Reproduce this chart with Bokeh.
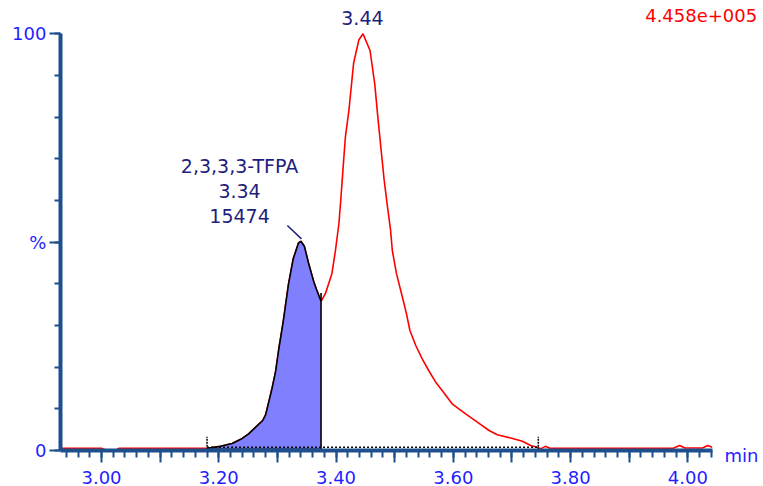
import numpy as np
from bokeh.plotting import figure
from bokeh.models import Range1d, FixedTicker, Label
from bokeh.embed import file_html
from bokeh.resources import INLINE

# ---- data (retention time in min, relative intensity in %) ----
time = [2.930, 2.960, 3.000, 3.007, 3.025, 3.030, 3.080, 3.130, 3.180, 3.203,
        3.223, 3.240, 3.251, 3.263, 3.275, 3.280, 3.285, 3.291, 3.297, 3.302,
        3.310, 3.319, 3.327, 3.336, 3.340, 3.346, 3.353, 3.362, 3.367, 3.3744,
        3.382, 3.393, 3.399, 3.405, 3.408, 3.413, 3.416, 3.422, 3.430, 3.439,
        3.446, 3.458, 3.466, 3.472, 3.477, 3.482, 3.487, 3.493, 3.496, 3.503,
        3.513, 3.520, 3.526, 3.536, 3.547, 3.558, 3.570, 3.581, 3.598, 3.621,
        3.641, 3.661, 3.675, 3.698, 3.718, 3.732, 3.743, 3.749, 3.757, 3.766,
        3.800, 3.900, 3.975, 3.986, 3.995, 4.025, 4.034, 4.0415]
intensity = [0.55, 0.55, 0.55, 0.1, 0.1, 0.55, 0.55, 0.55, 0.55, 1.0,
             1.7, 2.9, 4.0, 5.6, 7.2, 8.6, 11.5, 15.0, 19.0, 24.0,
             31.0, 40.0, 46.0, 49.8, 50.2, 49.0, 45.0, 40.5, 38.5, 35.8,
             37.7, 42.5, 48.0, 54.6, 60.0, 69.7, 75.3, 81.7, 93.0, 98.6,
             100.0, 96.0, 88.0, 79.0, 72.0, 65.0, 59.3, 52.9, 48.0, 42.5,
             36.9, 32.9, 28.8, 25.2, 22.0, 19.2, 16.4, 14.4, 11.2, 8.8,
             6.8, 4.8, 3.8, 3.0, 2.2, 1.2, 0.8, 0.4, 1.0, 0.5,
             0.55, 0.55, 0.55, 1.2, 0.6, 0.6, 1.2, 0.8]

# integration of the small peak
integ_start = 3.180
integ_drop = 3.3744
baseline_end = 3.745
baseline_level = 0.8
marker_low, marker_high = 0.2, 3.3

peak_name = "2,3,3,3-TFPA"
peak_rt = "3.34"
peak_area = "15474"
main_peak_label = "3.44"
scale_label = "4.458e+005"
x_unit = "min"

x_major = [3.0, 3.1, 3.2, 3.3, 3.4, 3.5, 3.6, 3.7, 3.8, 3.9, 4.0]
x_labels = ["3.00", "", "3.20", "", "3.40", "", "3.60", "", "3.80", "", "4.00"]
x_minor = [round(2.94 + 0.02 * i, 2) for i in range(56)]
y_major = [0, 50, 100]
y_labels = ["0", "%", "100"]
y_minor = list(range(0, 101, 10))

t = np.array(time)
v = np.array(intensity)

AXIS = "#1c4f8c"
TICKLBL = "#1f1fff"
NAVY = "#1e1e7c"
FONT = "DejaVu Sans"

X_AXIS_START, X_AXIS_END = 2.930, 4.0415

p = figure(width=763, height=486, output_backend="svg", toolbar_location=None,
           x_range=Range1d(2.8277, 4.1291), y_range=Range1d(-8.64, 108.0),
           min_border_left=0, min_border_right=0, min_border_top=0,
           min_border_bottom=0)
p.grid.visible = False
p.outline_line_color = None
p.background_fill_color = "white"
p.border_fill_color = "white"

# red trace
p.line(t, v, line_color="#ff0000", line_width=1.6)

# integrated area
mask = (t >= integ_start) & (t <= integ_drop)
p.varea(x=t[mask], y1=np.zeros(mask.sum()), y2=v[mask], fill_color="#8080ff")
p.line(t[mask], v[mask], line_color="black", line_width=1.6)
p.line([integ_start, integ_drop], [0.3, 0.3], line_color="black", line_width=1.5)
p.line([integ_drop, integ_drop], [0, v[mask][-1] + 2.0], line_color="black", line_width=1.6)

# dotted baseline and markers
p.line([integ_start, baseline_end], [baseline_level, baseline_level],
       line_color="black", line_width=1.5, line_dash="2 2")
p.line([integ_start, integ_start], [marker_low, marker_high],
       line_color="black", line_width=1.5, line_dash="2 1")
p.line([baseline_end, baseline_end], [marker_low, marker_high],
       line_color="black", line_width=1.5, line_dash="2 1")

# leader line from label to small peak apex
sub_i = np.argmax(np.where(mask, v, -1))
ax, ay = t[sub_i], v[sub_i]
p.line([ax - 0.023, ax + 0.001], [ay + 3.8, ay + 0.6], line_color=NAVY, line_width=1.5)

# axes (drawn at fixed data locations inside the full-canvas frame)
xa = p.xaxis[0]
xa.fixed_location = 0
xa.ticker = FixedTicker(ticks=x_major, minor_ticks=x_minor)
xa.major_label_overrides = {k: s for k, s in zip(x_major, x_labels)}
xa.bounds = (X_AXIS_START, X_AXIS_END)
xa.axis_line_color = AXIS
xa.axis_line_width = 4
xa.major_tick_line_color = AXIS
xa.minor_tick_line_color = AXIS
xa.major_tick_line_width = 2
xa.minor_tick_line_width = 2
xa.major_tick_in = 0
xa.minor_tick_in = 0
xa.major_tick_out = 12
xa.minor_tick_out = 7
xa.major_label_standoff = 8
xa.major_label_text_color = TICKLBL
xa.major_label_text_font = FONT
xa.major_label_text_font_size = "18px"

ya = p.yaxis[0]
ya.fixed_location = X_AXIS_START
ya.ticker = FixedTicker(ticks=y_major, minor_ticks=y_minor)
ya.major_label_overrides = {k: s for k, s in zip(y_major, y_labels)}
ya.bounds = (0, 100)
ya.axis_line_color = AXIS
ya.axis_line_width = 4
ya.major_tick_line_color = AXIS
ya.minor_tick_line_color = AXIS
ya.major_tick_line_width = 2
ya.minor_tick_line_width = 2
ya.major_tick_in = 0
ya.minor_tick_in = 0
ya.major_tick_out = 11
ya.minor_tick_out = 6
ya.major_label_standoff = 3
ya.major_label_text_color = TICKLBL
ya.major_label_text_font = FONT
ya.major_label_text_font_size = "18px"

# text annotations
lbl_x = 3.2354
for txt, yy in [(peak_name, 68.4), (peak_rt, 62.4), (peak_area, 56.4)]:
    p.add_layout(Label(x=lbl_x, y=yy, text=txt, text_font=FONT, text_font_size="19px",
                       text_color=NAVY, text_align="center", text_baseline="middle"))

mi = int(np.argmax(v))
p.add_layout(Label(x=t[mi] - 0.001, y=103.7, text=main_peak_label, text_font=FONT,
                   text_font_size="19px", text_color=NAVY, text_align="center",
                   text_baseline="middle"))
p.add_layout(Label(x=4.1184, y=104.4, text=scale_label, text_font=FONT,
                   text_font_size="18px", text_color="#ff0000", text_align="right",
                   text_baseline="middle"))
p.add_layout(Label(x=4.0626, y=-1.2, text=x_unit, text_font=FONT,
                   text_font_size="18px", text_color=TICKLBL, text_align="left",
                   text_baseline="middle"))

open("out.html", "w").write(file_html(p, INLINE))
